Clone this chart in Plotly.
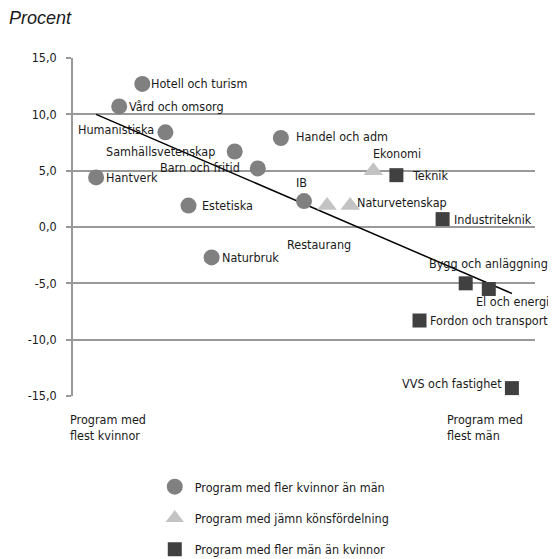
import plotly.graph_objects as go

# programmes ranked from most women (1) to most men (19); y = percent
women_names = ["Hantverk", "Vård och omsorg", "Hotell och turism", "Humanistiska",
               "Estetiska", "Naturbruk", "Samhällsvetenskap", "Barn och fritid",
               "Handel och adm", "IB"]
women_rank = [1, 2, 3, 4, 5, 6, 7, 8, 9, 10]
women_vals = [4.4, 10.7, 12.7, 8.4, 1.9, -2.7, 6.7, 5.2, 7.9, 2.3]

even_names = ["Restaurang", "Naturvetenskap", "Ekonomi"]
even_rank = [11, 12, 13]
even_vals = [1.9, 1.9, 5.0]

men_names = ["Teknik", "Fordon och transport", "Industriteknik",
             "Bygg och anläggning", "El och energi", "VVS och fastighet"]
men_rank = [14, 15, 16, 17, 18, 19]
men_vals = [4.6, -8.3, 0.7, -5.0, -5.5, -14.3]

# linear trend endpoints
trend_rank = [1, 19]
trend_vals = [10.0, -5.9]

y_ticks = [15, 10, 5, 0, -5, -10, -15]
y_ticktext = ["15,0", "10,0", "5,0", "0,0", "-5,0", "-10,0", "-15,0"]

legend_names = ["Program med fler kvinnor än män",
                "Program med jämn könsfördelning",
                "Program med fler män än kvinnor"]

FONT = "DejaVu Sans Condensed"
FS = 12.5
TXT = "#1a1a1a"
GRID = "#999999"

fig = go.Figure()

fig.add_trace(go.Scatter(x=trend_rank, y=trend_vals, mode="lines",
                         line=dict(color="black", width=1.5),
                         showlegend=False, hoverinfo="skip"))

fig.add_trace(go.Scatter(x=women_rank, y=women_vals, mode="markers", name=legend_names[0],
                         legendgroup="a",
                         marker=dict(symbol="circle", size=16, color="#808080")))
fig.add_trace(go.Scatter(x=even_rank, y=even_vals, mode="markers", name=legend_names[1],
                         legendgroup="b",
                         marker=dict(symbol="triangle-up", size=17, color="#c3c3c3")))
fig.add_trace(go.Scatter(x=men_rank, y=men_vals, mode="markers", name=legend_names[2],
                         legendgroup="c",
                         marker=dict(symbol="square", size=14, color="#404040")))

# label placement: (xanchor, dx px, dy px up)
label_pos = {
    "Hantverk": ("left", 8, 0),
    "Vård och omsorg": ("left", 8, 0),
    "Hotell och turism": ("left", 7, 0),
    "Humanistiska": ("right", -9, 3),
    "Estetiska": ("left", 11, 0),
    "Naturbruk": ("left", 8, 0),
    "Samhällsvetenskap": ("right", -18, 0),
    "Barn och fritid": ("right", -16, 1),
    "Handel och adm": ("left", 13, 1),
    "IB": ("center", -3, 19),
    "Restaurang": ("center", -8, -39),
    "Naturvetenskap": ("left", 5, 3),
    "Ekonomi": ("center", 24, 17),
    "Teknik": ("left", 14, 0),
    "Industriteknik": ("left", 9, 0),
    "Bygg och anläggning": ("right", 84, 20),
    "El och energi": ("right", 62, -13),
    "Fordon och transport": ("left", 8, 0),
    "VVS och fastighet": ("right", -8, 5),
}

for names, ranks, vals in [(women_names, women_rank, women_vals),
                           (even_names, even_rank, even_vals),
                           (men_names, men_rank, men_vals)]:
    for n, r, v in zip(names, ranks, vals):
        xa, dx, dy = label_pos[n]
        fig.add_annotation(x=r, y=v, text=n, showarrow=False, xanchor=xa, yanchor="middle",
                           xshift=dx, yshift=dy, font=dict(family=FONT, size=FS, color=TXT))

fig.add_annotation(xref="paper", yref="paper", x=-0.01, y=-0.04, xanchor="left", yanchor="top",
                   text="Program med<br>flest kvinnor", showarrow=False, align="left",
                   font=dict(family=FONT, size=FS, color=TXT))
fig.add_annotation(xref="paper", yref="paper", x=0.806, y=-0.04, xanchor="left", yanchor="top",
                   text="Program med<br>flest män", showarrow=False, align="left",
                   font=dict(family=FONT, size=FS, color=TXT))
fig.add_annotation(xref="paper", yref="paper", x=-0.143, y=1.118, xanchor="left", yanchor="middle",
                   text="<i>Procent</i>", showarrow=False,
                   font=dict(family="Liberation Sans", size=18, color=TXT))

fig.update_xaxes(range=[0, 20], showgrid=False, zeroline=False, showticklabels=False,
                 showline=False, ticks="")
fig.update_yaxes(range=[-15, 15], tickvals=y_ticks, ticktext=y_ticktext,
                 showgrid=True, gridcolor=GRID, gridwidth=1.5, zeroline=False,
                 showline=True, linecolor=GRID, linewidth=1.5,
                 ticks="outside", ticklen=5, tickcolor=GRID, tickwidth=1.5,
                 ticklabelstandoff=7,
                 tickfont=dict(family=FONT, size=FS, color=TXT))

# page body has an 8px margin, so the figure is drawn 8px in from the corner
fig.update_layout(
    width=548, height=551,
    margin=dict(l=65, r=21, t=50, b=163, autoexpand=False),
    plot_bgcolor="white", paper_bgcolor="white",
    legend=dict(x=0.177, y=-0.225, xanchor="left", yanchor="top",
                traceorder="grouped", tracegroupgap=12,
                font=dict(family=FONT, size=FS, color=TXT)),
)

fig.write_html("out.html")
